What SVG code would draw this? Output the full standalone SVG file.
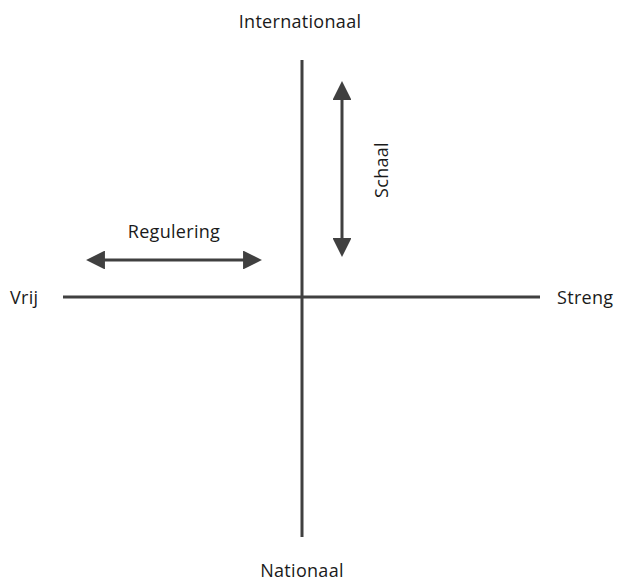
<svg xmlns="http://www.w3.org/2000/svg" width="619" height="583" viewBox="0 0 619 583">
<style>
text{font-family:"Open Sans","Liberation Sans",sans-serif;font-size:18px;letter-spacing:0.3px;fill:#1a1a1a}
.axis{stroke:#404040;stroke-width:3;fill:none}
.arr{stroke:#404040;stroke-width:3;fill:none}
</style>
<defs>
<marker id="ah" viewBox="0 0 10 10" refX="0.5" refY="5" markerWidth="6.5" markerHeight="6.3" orient="auto-start-reverse" markerUnits="strokeWidth">
<path d="M0,0 L10,5 L0,10 Z" fill="#404040"/>
</marker>
</defs>
<g id="connectors">
<line class="axis" x1="302" y1="60" x2="302" y2="537"/>
<line class="axis" x1="63" y1="297" x2="540" y2="297"/>
<line class="arr" x1="104" y1="260" x2="244" y2="260" marker-start="url(#ah)" marker-end="url(#ah)"/>
<line class="arr" x1="342" y1="99" x2="342" y2="239" marker-start="url(#ah)" marker-end="url(#ah)"/>
</g>
<g id="internationaal"><text x="300" y="28" text-anchor="middle">Internationaal</text></g>
<g id="nationaal"><text x="302" y="577" text-anchor="middle">Nationaal</text></g>
<g id="vrij"><text x="10" y="304">Vrij</text></g>
<g id="streng"><text x="557" y="304">Streng</text></g>
<g id="regulering"><text x="174" y="238" text-anchor="middle">Regulering</text></g>
<g id="schaal"><text transform="translate(388,170) rotate(-90)" text-anchor="middle">Schaal</text></g>
</svg>
